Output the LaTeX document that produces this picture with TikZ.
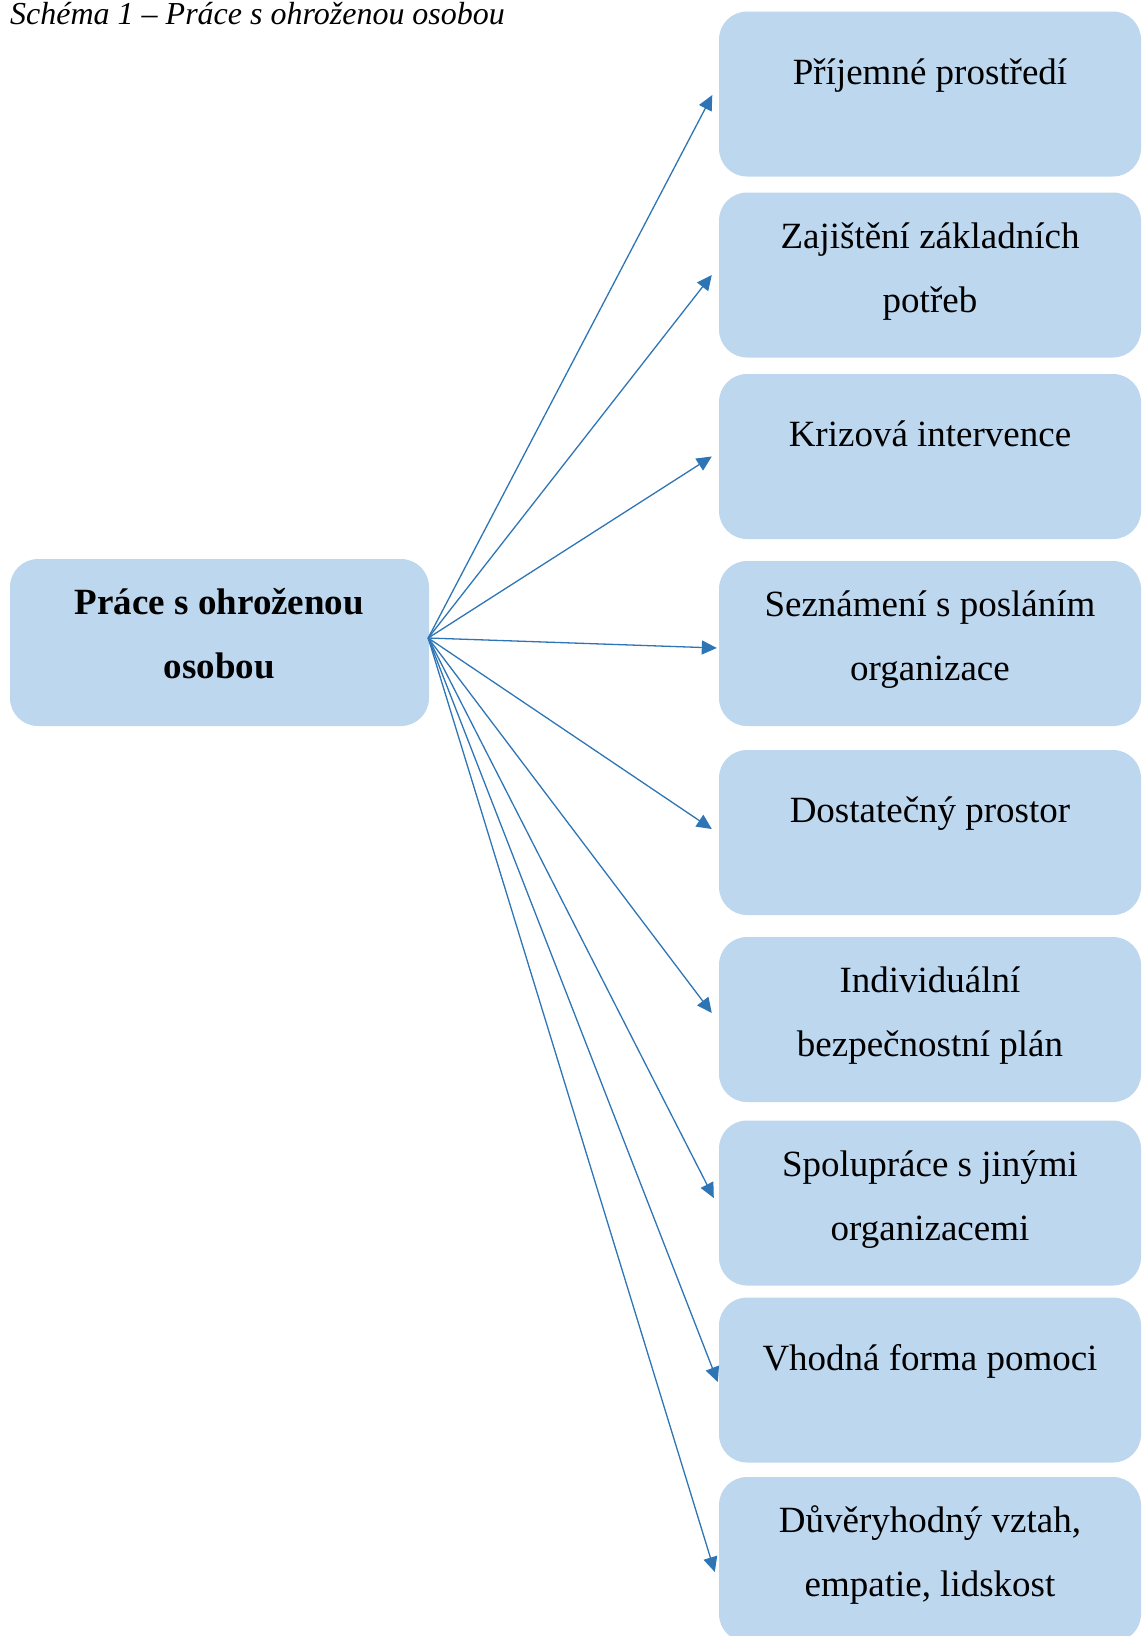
\documentclass[tikz,border=0pt]{standalone}
\usepackage{fontspec}
\setmainfont{Liberation Serif}
\usetikzlibrary{arrows.meta}
\definecolor{boxfill}{HTML}{BDD7EE}
\definecolor{linkblue}{HTML}{2E75B6}
\begin{document}
\begin{tikzpicture}[x=1pt,y=-1pt,
  card/.style={fill=boxfill, draw=none, rounded corners=28pt,
    minimum width=422pt, minimum height=165pt, inner sep=0pt},
  words/.style={inner sep=0pt, anchor=base, font=\fontsize{37}{64}\selectfont},
  link/.style={draw=linkblue, line width=1.3pt,
    -{Triangle[length=15pt,width=14pt]}}]
\useasboundingbox (0,0) rectangle (1141,1636);
\clip (0,0) rectangle (1141,1636);

% caption
\node[inner sep=0pt, anchor=base west, font=\fontsize{32}{38}\selectfont\itshape]
  (caption) at (10,24) {Schéma 1 – Práce s ohroženou osobou};

% central box
\node[card, minimum width=419pt, minimum height=167pt] (hub) at (219.5,642.5) {};
\node[words] (hubtext) at ([yshift=-56pt]hub.north)
  {\parbox[t]{400pt}{\centering\bfseries Práce s ohroženou\\osobou}};

% right-hand column of boxes
\node[card] (b1) at (930,94)     {};
\node[card] (b2) at (930,275)    {};
\node[card] (b3) at (930,456.5)  {};
\node[card] (b4) at (930,643.5)  {};
\node[card] (b5) at (930,832.5)  {};
\node[card] (b6) at (930,1019.5) {};
\node[card] (b7) at (930,1203)   {};
\node[card] (b8) at (930,1380)   {};
\node[card] (b9) at (930,1559.5) {};

\node[words] (t1) at ([yshift=-73pt]b1.north)
  {\parbox[t]{410pt}{\centering Příjemné prostředí}};
\node[words] (t2) at ([yshift=-56pt]b2.north)
  {\parbox[t]{410pt}{\centering Zajištění základních\\potřeb}};
\node[words] (t3) at ([yshift=-73pt]b3.north)
  {\parbox[t]{410pt}{\centering Krizová intervence}};
\node[words] (t4) at ([yshift=-56pt]b4.north)
  {\parbox[t]{410pt}{\centering Seznámení s posláním\\organizace}};
\node[words] (t5) at ([yshift=-73pt]b5.north)
  {\parbox[t]{410pt}{\centering Dostatečný prostor}};
\node[words] (t6) at ([yshift=-56pt]b6.north)
  {\parbox[t]{410pt}{\centering Individuální\\bezpečnostní plán}};
\node[words] (t7) at ([yshift=-56pt]b7.north)
  {\parbox[t]{410pt}{\centering Spolupráce s jinými\\organizacemi}};
\node[words] (t8) at ([yshift=-73pt]b8.north)
  {\parbox[t]{410pt}{\centering Vhodná forma pomoci}};
\node[words] (t9) at ([yshift=-56pt]b9.north)
  {\parbox[t]{410pt}{\centering Důvěryhodný vztah,\\empatie, lidskost}};

% connectors fanning out from the central box
\coordinate (fan) at ([xshift=-1pt,yshift=4.5pt]hub.east);
\draw[link] (fan) -- ([xshift=-6.5pt,yshift=-1pt]b1.west);
\draw[link] (fan) -- ([xshift=-7pt]b2.west);
\draw[link] (fan) -- ([xshift=-7pt]b3.west);
\draw[link] (fan) -- ([xshift=-2pt,yshift=-4.5pt]b4.west);
\draw[link] (fan) -- ([xshift=-7pt,yshift=3.5pt]b5.west);
\draw[link] (fan) -- ([xshift=-7pt,yshift=6.5pt]b6.west);
\draw[link] (fan) -- ([xshift=-5pt,yshift=5pt]b7.west);
\draw[link] (fan) -- ([xshift=-1pt,yshift=-2pt]b8.west);
\draw[link] (fan) -- ([xshift=-4pt,yshift=-12.5pt]b9.west);
\end{tikzpicture}
\end{document}
